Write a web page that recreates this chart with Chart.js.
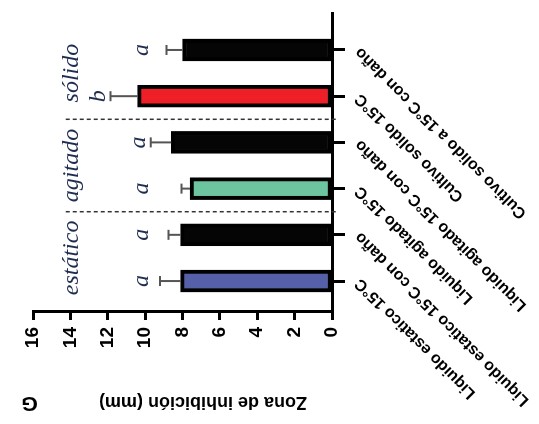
<!DOCTYPE html>
<html>
<head>
<meta charset="utf-8">
<script src="https://cdn.jsdelivr.net/npm/chart.js@4.4.1/dist/chart.umd.min.js"></script>
<style>
  html, body { margin: 0; padding: 0; background: #fff; overflow: hidden; }
  /* the figure is laid out upright and then turned a quarter turn to the left */
  #wrap {
    position: absolute; left: 0; top: 0;
    width: 424px; height: 539px;
    transform-origin: 0 0;
    transform: translate(0, 424px) rotate(-90deg);
  }
</style>
</head>
<body>
<div id="wrap"><canvas id="chart" width="424" height="539"></canvas></div>
<script>
'use strict';

const categories = [
  'Liquido estatico 15°C',
  'Liquido estatico 15°C con daño',
  'Liquido agitado 15°C',
  'Liquido agitado 15°C con daño',
  'Cultivo solido 15°C',
  'Cultivo solido a 15°C con daño',
];
const means = [8.1, 8.1, 7.6, 8.6, 10.4, 8.0];
const errors = [1.1, 0.65, 0.45, 1.1, 1.45, 0.85];
const letters = ['a', 'a', 'a', 'a', 'b', 'a'];
const groups = ['estático', 'agitado', 'sólido'];
const yTicks = [0, 2, 4, 6, 8, 10, 12, 14, 16];

const barColors = ['#5560a9', '#050505', '#6cc59e', '#050505', '#ee1f26', '#050505'];
const sans = '"Liberation Sans", Arial, sans-serif';
const serif = '"Liberation Serif", "Times New Roman", serif';
const noteColor = '#1f2d50';

// error bars (upper side only), significance letters, group labels, separators, axis title
const annotations = {
  id: 'annotations',
  afterDatasetsDraw(chart) {
    const { ctx } = chart;
    const y = chart.scales.y;
    ctx.save();
    ctx.strokeStyle = '#555';
    ctx.lineWidth = 2;
    chart.getDatasetMeta(0).data.forEach((bar, i) => {
      const top = y.getPixelForValue(means[i] + errors[i]);
      ctx.beginPath();
      ctx.moveTo(bar.x, bar.y);
      ctx.lineTo(bar.x, top);
      ctx.moveTo(bar.x - 5, top);
      ctx.lineTo(bar.x + 5, top);
      ctx.stroke();
    });
    ctx.restore();
  },
  afterDraw(chart) {
    const { ctx, chartArea } = chart;
    const x = chart.scales.x;
    const y = chart.scales.y;
    ctx.save();

    // dashed separators between the groups
    ctx.strokeStyle = '#333';
    ctx.lineWidth = 1.5;
    ctx.setLineDash([4, 3]);
    [2.5, 4.5].forEach((v) => {
      const px = x.getPixelForValue(v);
      ctx.beginPath();
      ctx.moveTo(px, y.getPixelForValue(-0.2));
      ctx.lineTo(px, y.getPixelForValue(14.3));
      ctx.stroke();
    });
    ctx.setLineDash([]);

    ctx.fillStyle = noteColor;
    ctx.font = 'italic 24px ' + serif;
    ctx.textAlign = 'center';
    ctx.textBaseline = 'alphabetic';
    letters.forEach((l, i) => {
      const level = Math.max(9.85, means[i] + errors[i] + 0.3);
      ctx.fillText(l, x.getPixelForValue(i + 1), y.getPixelForValue(level));
    });
    groups.forEach((g, i) => {
      ctx.fillText(g, x.getPixelForValue(2 * i + 1.5), y.getPixelForValue(13.6));
    });

    // axis title and panel letter, read bottom to top
    const mid = chartArea.bottom - 129;
    ctx.fillStyle = '#000';
    ctx.translate(27, mid);
    ctx.rotate(-Math.PI / 2);
    ctx.font = 'bold 18px ' + sans;
    ctx.fillText('Zona de inhibición (mm)', 0, 0);
    ctx.font = 'bold 21px ' + sans;
    ctx.fillText('G', mid - 29.5, 0);
    ctx.restore();
  },
};

new Chart(document.getElementById('chart'), {
  type: 'bar',
  data: {
    datasets: [
      {
        data: means.map((m, i) => ({ x: i + 1, y: m })),
        backgroundColor: barColors,
        borderColor: '#000',
        borderWidth: 4,
        borderSkipped: false,
        barThickness: 22,
      },
    ],
  },
  options: {
    responsive: false,
    animation: false,
    devicePixelRatio: 1,
    layout: { padding: { top: 33, right: 13, left: 0, bottom: 0 } },
    plugins: { legend: { display: false }, tooltip: { enabled: false } },
    scales: {
      x: {
        type: 'linear',
        offset: false,
        min: 0.33,
        max: 6.8,
        afterBuildTicks: (scale) => {
          scale.ticks = categories.map((_, i) => ({ value: i + 1 }));
        },
        afterFit: (scale) => {
          scale.height = 207;
          scale.paddingLeft = 0;
          scale.paddingRight = 0;
        },
        ticks: {
          autoSkip: false,
          minRotation: 45,
          maxRotation: 45,
          padding: 6,
          color: '#000',
          font: { family: sans, size: 16, weight: 'bold' },
          callback: (value, index) => categories[index],
        },
        grid: { offset: false, drawOnChartArea: false, tickLength: 13, tickWidth: 3, tickColor: '#000' },
        border: { color: '#000', width: 3 },
      },
      y: {
        min: 0,
        max: 16,
        afterBuildTicks: (scale) => {
          scale.ticks = yTicks.map((v) => ({ value: v }));
        },
        afterFit: (scale) => {
          scale.width = 112;
        },
        ticks: {
          padding: 7,
          color: '#000',
          font: { family: sans, size: 19, weight: 'bold' },
        },
        grid: { drawOnChartArea: false, tickLength: 8, tickWidth: 3, tickColor: '#000' },
        border: { color: '#000', width: 3 },
      },
    },
  },
  plugins: [annotations],
});
</script>
</body>
</html>
